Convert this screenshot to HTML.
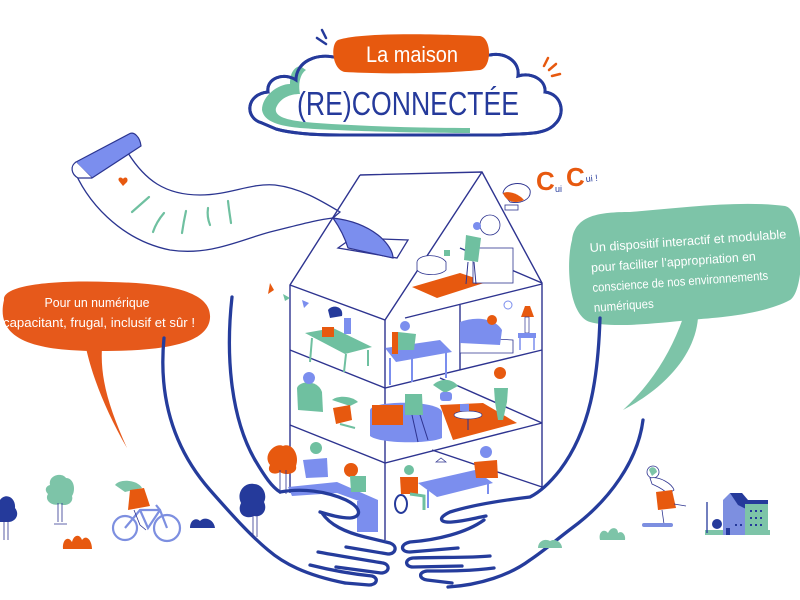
<!DOCTYPE html>
<html><head><meta charset="utf-8"><style>
html,body{margin:0;padding:0;background:#fff}
svg{display:block}
text{font-family:"Liberation Sans",sans-serif}
</style></head><body>
<svg width="800" height="600" viewBox="0 0 800 600" xmlns="http://www.w3.org/2000/svg">
<rect width="800" height="600" fill="#fff"/>

<!-- ===== CLOUD TITLE ===== -->
<path d="M262,123 C244,118 246,94 268,92 C266,78 284,72 296,80 C296,62 316,52 338,58 L490,55 C506,52 520,62 518,76 C532,72 546,80 545,92 C562,94 566,114 555,124 C545,136 520,133 500,135 L340,135 C312,135 290,133 276,129 Z" fill="#fff" stroke="#253a9b" stroke-width="3"/>
<path d="M300,66 C292,68 290,76 290,84 C278,84 262,96 262,110 C264,122 280,126 300,128 C340,131 420,133 470,133 L470,128 C420,128 350,126 305,122 C285,120 274,116 276,108 C280,98 290,94 300,94 C298,84 300,74 306,70 Z" fill="#72c2a2"/>
<path d="M262,123 C244,118 246,94 268,92 C266,78 284,72 296,80 C296,62 316,52 338,58 L490,55 C506,52 520,62 518,76 C532,72 546,80 545,92 C562,94 566,114 555,124 C545,136 520,133 500,135 L340,135 C312,135 290,133 276,129 Z" fill="none" stroke="#253a9b" stroke-width="3"/>
<path d="M338,40 C360,32 440,34 480,36 C492,38 492,68 480,70 C440,74 380,74 345,72 C332,70 330,44 338,40 Z" fill="#e7590f"/>
<text x="412" y="62" font-size="22" fill="#fff" text-anchor="middle" textLength="92" lengthAdjust="spacingAndGlyphs">La maison</text>
<text x="297" y="115" font-size="33" fill="#253a9b" textLength="222" lengthAdjust="spacingAndGlyphs">(RE)CONNECTÉE</text>
<path d="M322,30 L326,38 M317,38 L326,44" stroke="#253a9b" stroke-width="2.5" stroke-linecap="round"/>
<path d="M548,58 L544,66 M556,64 L549,70 M560,74 L552,76" stroke="#e7590f" stroke-width="2.5" stroke-linecap="round"/>

<!-- ===== SCROLL RIBBON ===== -->
<path d="M128,153 C145,180 165,195 200,195 C230,195 250,183 275,185 C300,188 320,200 340,212 L333,218 C315,220 295,226 270,232 C240,240 210,256 170,250 C120,240 85,200 73,167 Z" fill="#fff" stroke="#2b3590" stroke-width="1.3"/>
<path d="M76,162 L129,134 C134,131 140,137 141,146 L92,178 C86,172 80,168 76,162 Z" fill="#7b8eee" stroke="#2b3590" stroke-width="1.2"/>
<path d="M76,162 C70,166 71,174 78,178 L92,178" fill="#fff" stroke="#2b3590" stroke-width="1.2"/>
<path d="M119,181 C117,178 121,176 123,179 C125,176 129,178 127,182 L123,186 Z" fill="#e7590f"/>
<g stroke="#6fc0a0" stroke-width="2.2" stroke-linecap="round" fill="none">
<path d="M149,197 L132,212"/><path d="M164,213 C158,220 155,226 153,232"/><path d="M186,211 C184,220 183,226 182,233"/><path d="M208,208 C207,215 208,220 210,225"/><path d="M228,201 C229,210 230,216 231,223"/>
</g>

<!-- ===== HOUSE ===== -->
<g fill="none" stroke="#2e3490" stroke-width="1.4">
<path d="M360,175 L482,172 L542,283 L542,490"/>
<path d="M360,175 L290,285 L290,493"/>
<path d="M482,172 L385,320 L290,285"/>
<path d="M385,320 L385,540"/>
<path d="M405,318 L542,284"/>
<path d="M460,248 L542,283"/>
<path d="M290,350 L385,388 L542,350"/>
<path d="M460,305 L460,370"/>
<path d="M440,378 L542,423"/>
<path d="M290,425 L385,463 L542,423"/>
<path d="M432,450 L542,487"/>
</g>
<!-- slot + flap -->
<path d="M338,248 L352,238 L408,240 L397,258 Z" fill="#fff" stroke="#2e3490" stroke-width="1.3"/>
<path d="M333,218 C350,220 365,225 378,235 C388,243 393,252 393,258 L348,248 C345,238 340,228 333,218 Z" fill="#7b8eee" stroke="#2e3490" stroke-width="1.2"/>

<!-- attic -->
<path d="M412,287 L460,273 L487,282 L437,298 Z" fill="#e7590f"/>
<rect x="473" y="248" width="40" height="35" fill="#fff" stroke="#2e3490" stroke-width="0.8"/>
<circle cx="490" cy="225" r="10" fill="#fff" stroke="#2e3490" stroke-width="0.8"/>
<path d="M417,262 C418,254 440,253 446,262 L446,270 C440,276 422,276 417,270 Z" fill="#fff" stroke="#2e3490" stroke-width="0.8"/>
<path d="M466,235 L481,238 L478,262 L464,260 Z" fill="#6fc0a0"/>
<path d="M468,262 L466,284 M474,262 L476,284" stroke="#2e3490" stroke-width="1"/>
<circle cx="477" cy="226" r="4" fill="#7b8eee"/>
<rect x="444" y="250" width="6" height="6" fill="#6fc0a0"/>

<!-- floor1 left -->
<path d="M305,333 L333,328 L372,347 L345,354 Z" fill="#6fc0a0"/>
<path d="M312,338 L310,362 M346,354 L344,372 M368,350 L368,366" stroke="#6fc0a0" stroke-width="2"/>
<path d="M328,310 C332,304 344,306 342,316 L330,318 Z" fill="#253a9b"/>
<rect x="322" y="327" width="12" height="10" fill="#e7590f"/>
<rect x="344" y="318" width="7" height="16" fill="#7b8eee"/>
<path d="M302,300 L309,303 L304,308 Z" fill="#7b8eee"/>
<path d="M270,283 L274,290 L268,294 Z" fill="#e7590f"/>
<path d="M283,294 L290,298 L285,301 Z" fill="#6fc0a0"/>
<!-- floor1 middle -->
<path d="M385,348 L440,340 L452,352 L396,362 Z" fill="#7b8eee"/>
<path d="M390,358 L390,385 M412,358 L412,382 M446,352 L446,378" stroke="#7b8eee" stroke-width="2"/>
<rect x="392" y="332" width="6" height="22" fill="#e7590f"/>
<path d="M398,332 L416,334 L414,350 L398,350 Z" fill="#6fc0a0"/>
<circle cx="405" cy="326" r="5" fill="#7b8eee"/>
<!-- floor1 right bedroom -->
<path d="M460,337 L513,340 L513,353 L460,353 Z" fill="#fff" stroke="#2e3490" stroke-width="0.8"/>
<path d="M460,322 C475,316 495,318 502,330 L500,345 L460,343 Z" fill="#7b8eee"/>
<circle cx="492" cy="320" r="5" fill="#e7590f"/>
<path d="M521,317 L525,306 L530,306 L534,317 Z" fill="#e7590f"/>
<rect x="525" y="317" width="4" height="16" fill="#fff" stroke="#2e3490" stroke-width="0.7"/>
<rect x="518" y="333" width="18" height="5" fill="#7b8eee"/>
<path d="M520,338 L520,350 M534,338 L534,350" stroke="#7b8eee" stroke-width="1.5"/>
<circle cx="508" cy="305" r="4" fill="#fff" stroke="#7b8eee" stroke-width="1"/>

<!-- floor2 left -->
<path d="M297,388 C300,380 318,380 322,392 L323,412 L298,410 Z" fill="#6fc0a0"/>
<circle cx="309" cy="378" r="6" fill="#7b8eee"/>
<path d="M332,400 C338,395 352,396 358,402 L350,406 Z" fill="#6fc0a0"/>
<path d="M333,408 L350,405 L352,420 L336,424 Z" fill="#e7590f"/>
<path d="M340,424 L355,428" stroke="#6fc0a0" stroke-width="2"/>
<!-- floor2 right -->
<path d="M370,410 C372,400 440,400 442,412 L442,438 C430,444 380,444 370,436 Z" fill="#7b8eee"/>
<path d="M372,405 L403,405 L403,425 L372,425 Z" fill="#e7590f"/>
<path d="M440,405 L483,403 L517,423 L453,440 Z" fill="#e7590f"/>
<ellipse cx="468" cy="415" rx="14" ry="4" fill="#fff" stroke="#2e3490" stroke-width="0.7"/>
<path d="M468,419 L468,430" stroke="#2e3490" stroke-width="1"/>
<rect x="460" y="404" width="9" height="7" fill="#7b8eee"/>
<path d="M405,394 L422,394 L423,415 L405,415 Z" fill="#6fc0a0"/>
<path d="M412,415 L418,442 M420,415 L428,440" stroke="#2e3490" stroke-width="1"/>
<path d="M433,385 C440,378 452,378 458,386 L445,393 Z" fill="#6fc0a0"/>
<rect x="440" y="392" width="12" height="9" rx="3" fill="#7b8eee"/>
<circle cx="500" cy="373" r="6" fill="#e7590f"/>
<path d="M494,388 L508,388 L507,402 L503,420 L498,420 L495,402 Z" fill="#6fc0a0"/>

<!-- floor3 left -->
<path d="M270,465 C262,455 275,442 283,446 C292,442 300,455 296,466 C298,474 285,476 280,472 C274,476 266,472 270,465 Z" fill="#e7590f"/>
<path d="M280,470 L280,494 M286,470 L286,494" stroke="#2e3490" stroke-width="0.8"/>
<path d="M288,487 L337,482 L378,500 L378,508 L337,493 L292,496 Z" fill="#7b8eee"/>
<rect x="357" y="501" width="21" height="31" fill="#7b8eee"/>
<path d="M303,460 L327,458 L328,477 L306,478 Z" fill="#7b8eee"/>
<circle cx="316" cy="448" r="6" fill="#6fc0a0"/>
<circle cx="351" cy="470" r="7" fill="#e7590f"/>
<path d="M350,476 L366,476 L366,492 L351,492 Z" fill="#6fc0a0"/>
<!-- floor3 right -->
<path d="M418,483 L475,470 L493,483 L437,497 Z" fill="#7b8eee"/>
<path d="M428,490 L428,508 M488,484 L488,494" stroke="#7b8eee" stroke-width="2"/>
<path d="M436,462 L446,462 L441,458 Z" fill="#fff" stroke="#2e3490" stroke-width="0.7"/>
<circle cx="409" cy="470" r="5" fill="#6fc0a0"/>
<path d="M400,477 L418,477 L418,494 L401,494 Z" fill="#e7590f"/>
<path d="M410,494 L424,496 L424,510" stroke="#6fc0a0" stroke-width="3" fill="none"/>
<ellipse cx="401" cy="504" rx="6" ry="9" fill="none" stroke="#253a9b" stroke-width="2"/>
<circle cx="486" cy="452" r="6" fill="#7b8eee"/>
<path d="M474,462 L497,460 L498,478 L476,478 Z" fill="#e7590f"/>

<!-- bird & cui cui -->
<path d="M503,193 C505,182 525,180 530,190 C532,200 520,204 510,202 Z" fill="#fff" stroke="#2e3490" stroke-width="0.9"/>
<path d="M503,193 C510,190 520,195 524,200 C516,204 506,202 503,193 Z" fill="#e7590f"/>
<rect x="505" y="205" width="13" height="5" fill="#fff" stroke="#2e3490" stroke-width="0.8"/>
<text x="536" y="190" font-size="26" font-weight="bold" fill="#e7590f">C</text>
<text x="555" y="192" font-size="9" fill="#253a9b">ui</text>
<text x="566" y="186" font-size="26" font-weight="bold" fill="#e7590f">C</text>
<text x="586" y="182" font-size="9" fill="#253a9b" transform="rotate(-6 586 182)">ui !</text>

<!-- ===== SPEECH BUBBLES ===== -->
<path d="M4,300 C2,284 60,280 110,282 C170,283 212,292 210,318 C208,345 160,351 100,351 C40,351 -6,342 4,300 Z" fill="#e6591b"/>
<path d="M86,348 C92,375 105,410 127,448 C110,410 100,380 102,348 Z" fill="#e6591b"/>
<text x="97" y="307" font-size="12.5" fill="#fff" text-anchor="middle" textLength="105" lengthAdjust="spacingAndGlyphs">Pour un numérique</text>
<text x="99" y="327" font-size="12.5" fill="#fff" text-anchor="middle" textLength="192" lengthAdjust="spacingAndGlyphs">capacitant, frugal, inclusif et sûr !</text>

<path d="M572,240 C575,215 600,212 630,212 C680,208 740,200 785,206 C805,210 806,290 790,300 C760,316 710,318 690,320 C650,324 610,328 590,322 C568,315 566,262 572,240 Z" fill="#7dc4a8"/>
<path d="M683,318 C670,355 650,385 623,410 C665,388 695,355 698,318 Z" fill="#7dc4a8"/>
<g fill="#fff" font-size="12.5" transform="rotate(-4 590 252)">
<text x="590" y="252" textLength="197" lengthAdjust="spacingAndGlyphs">Un dispositif interactif et modulable</text>
<text x="590" y="272" textLength="165" lengthAdjust="spacingAndGlyphs">pour faciliter l’appropriation en</text>
<text x="590" y="292" textLength="176" lengthAdjust="spacingAndGlyphs">conscience de nos environnements</text>
<text x="590" y="312" textLength="60" lengthAdjust="spacingAndGlyphs">numériques</text>
</g>

<!-- ===== HANDS ===== -->
<g fill="none" stroke="#253c9c" stroke-width="3.3" stroke-linecap="round" stroke-linejoin="round">
<!-- left -->
<path d="M164,338 C158,400 175,450 210,490 C232,515 250,535 268,550 C283,563 305,575 345,583"/>
<path d="M232,297 C225,360 232,420 255,460 C265,477 272,487 280,492 C302,488 326,491 346,500 C362,508 362,517 350,518 C340,518 330,515 320,512"/>
<path d="M322,513 C330,525 345,532 365,537 L390,543 C398,546 396,554 388,554 L346,547"/>
<path d="M318,552 C340,556 365,560 383,563 C391,565 389,573 381,573 L336,567"/>
<path d="M310,565 C330,570 352,574 372,576 C379,578 377,585 369,585 L345,583"/>
<!-- right -->
<path d="M600,318 C598,380 590,430 560,470 C549,484 540,492 530,497 C505,500 472,505 450,512 C437,518 440,523 452,522 C465,521 475,518 486,516"/>
<path d="M643,420 C638,460 610,500 572,528 C556,540 545,550 530,560 C510,575 480,585 448,587"/>
<path d="M484,520 C466,533 437,540 410,542 C400,544 400,552 410,552 L458,548"/>
<path d="M490,556 C470,558 440,557 413,558 C404,559 405,567 413,567 L462,566"/>
<path d="M494,568 C472,571 448,571 427,571 C418,572 419,579 427,580 L452,583"/>
</g>

<!-- ===== GROUND ITEMS ===== -->
<path d="M0,500 C6,492 16,498 15,508 C20,514 16,522 8,522 L0,522 Z" fill="#253a9b"/>
<path d="M4,520 L4,540 M8,520 L8,540" stroke="#2e3490" stroke-width="0.8"/>
<path d="M50,485 C48,475 62,472 66,478 C74,478 76,490 72,496 C74,503 66,507 60,504 C52,507 44,500 48,494 C44,490 46,486 50,485 Z" fill="#7dc4a8"/>
<path d="M58,503 L58,522 M62,503 L62,522 M54,524 L67,524" stroke="#2e3490" stroke-width="0.8"/>
<path d="M63,549 C62,540 68,535 72,542 C74,534 80,534 82,540 C86,534 92,540 92,549 Z" fill="#e7590f"/>
<g fill="none" stroke="#7d8fe0" stroke-width="2.2">
<circle cx="125" cy="528" r="12"/><circle cx="167" cy="528" r="13"/>
<path d="M125,528 L140,510 L160,510 L167,528 M140,510 L148,528 L160,510 M156,505 L160,510"/>
</g>
<path d="M115,485 C120,478 138,480 142,488 L125,492 Z" fill="#7dc4a8"/>
<path d="M130,490 L144,488 L150,506 L128,510 Z" fill="#e7590f"/>
<path d="M134,510 L140,525 L146,530" stroke="#2e3490" stroke-width="0.8" fill="none"/>
<path d="M190,528 C190,520 196,517 200,521 C204,516 214,519 215,528 Z" fill="#253a9b"/>
<path d="M241,503 C236,493 244,482 254,484 C262,484 268,494 264,502 C268,510 262,518 254,516 C246,520 236,514 241,503 Z" fill="#253a9b"/>
<path d="M253,514 L253,537 M257,514 L257,537" stroke="#2e3490" stroke-width="0.8"/>
<path d="M538,548 C538,541 545,538 550,541 C555,538 562,542 562,548 Z" fill="#7dc4a8"/>
<path d="M600,540 C598,532 604,528 608,533 C611,526 618,527 618,533 C622,530 626,535 625,540 Z" fill="#7dc4a8"/>
<circle cx="653" cy="472" r="6" fill="#fff" stroke="#2e3490" stroke-width="0.8"/>
<path d="M649,470 C650,466 656,466 657,472 L652,476 Z" fill="#7dc4a8"/>
<path d="M650,478 C660,476 672,484 674,490 L668,494 C662,488 656,486 652,484 Z" fill="#fff" stroke="#2e3490" stroke-width="0.8"/>
<path d="M656,492 L672,490 L676,508 L658,510 Z" fill="#e7590f"/>
<path d="M662,510 L664,524 M674,504 L686,506" stroke="#2e3490" stroke-width="0.8"/>
<rect x="642" y="523" width="31" height="4" rx="2" fill="#7d8fe0"/>
<path d="M705,535 L770,535 L770,530 L705,530 Z" fill="#7dc4a8"/>
<path d="M707,502 L707,533" stroke="#253a9b" stroke-width="1.3"/>
<circle cx="717" cy="524" r="5" fill="#253a9b"/>
<path d="M723,500 L730,493 L742,493 L747,500 L747,535 L723,535 Z" fill="#7d8fe0"/>
<path d="M730,493 L742,493 L748,500 L748,510 L738,505 Z" fill="#253a9b"/>
<rect x="745" y="502" width="23" height="33" fill="#7dc4a8"/>
<rect x="745" y="500" width="23" height="4" fill="#253a9b"/>
<g fill="#253a9b"><rect x="750" y="510" width="2" height="2"/><rect x="755" y="510" width="2" height="2"/><rect x="760" y="510" width="2" height="2"/><rect x="750" y="517" width="2" height="2"/><rect x="755" y="517" width="2" height="2"/><rect x="760" y="517" width="2" height="2"/><rect x="750" y="524" width="2" height="2"/><rect x="755" y="524" width="2" height="2"/><rect x="760" y="524" width="2" height="2"/><rect x="726" y="528" width="4" height="7"/><rect x="735" y="524" width="2" height="2"/><rect x="740" y="524" width="2" height="2"/></g>
</svg>
</body></html>
